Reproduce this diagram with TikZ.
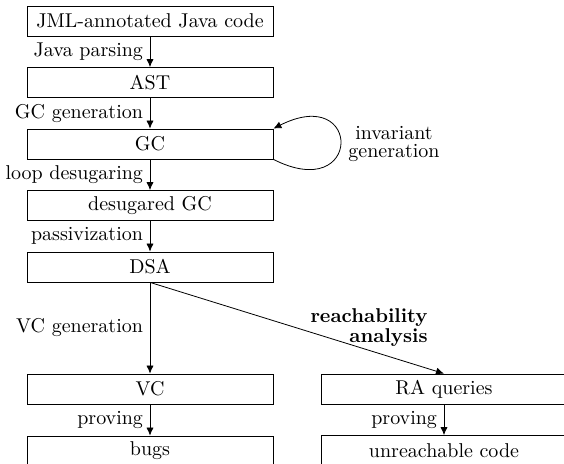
\documentclass[tikz,border=0pt]{standalone}
\usetikzlibrary{arrows.meta}
\begin{document}
\begin{tikzpicture}[x=0.5pt,y=-0.5pt,
  stagebox/.style={draw,minimum width=123pt,minimum height=15pt,inner sep=0pt},
  flow/.style={-{Latex[length=4pt,width=3.6pt]}},
  lbl/.style={left}]
\clip (0,0) rectangle (564,464);
\useasboundingbox (0,0) rectangle (564,464);
\node[stagebox] (jml) at (150,21) {JML-annotated Java code};
\node[stagebox] (ast) at (150,82.5) {AST};
\node[stagebox] (gc) at (150,144) {GC};
\node[stagebox] (dgc) at (150,205.5) {desugared GC};
\node[stagebox] (dsa) at (150,267) {DSA};
\node[stagebox] (vc) at (150,389) {VC};
\node[stagebox] (bugs) at (150,451) {bugs};
\node[stagebox] (ra) at (444,389) {RA queries};
\node[stagebox] (unr) at (444,450.5) {unreachable code};
\draw[flow] (jml) -- node[lbl] {Java parsing} (ast);
\draw[flow] (ast) -- node[lbl] {GC generation} (gc);
\draw[flow] (gc) -- node[lbl] {loop desugaring} (dgc);
\draw[flow] (dgc) -- node[lbl] {passivization} (dsa);
\draw[flow] (dsa) -- node[lbl] {VC generation} (vc);
\draw[flow] (vc) -- node[lbl] {proving} (bugs);
\draw[flow] (ra) -- node[lbl] {proving} (unr);
\draw[flow] (dsa.south) -- (ra.north);
\draw[flow] (gc.south east) .. controls +(89,45) and +(89,-45) .. (gc.north east);
\node[align=center,inner sep=0pt] (inv) at (394,144) {invariant\\[-3pt]generation};
\node[align=right,inner sep=0pt,anchor=east,font=\bfseries] (rea) at (428,328) {reachability\\[-2pt]analysis};
\end{tikzpicture}
\end{document}
